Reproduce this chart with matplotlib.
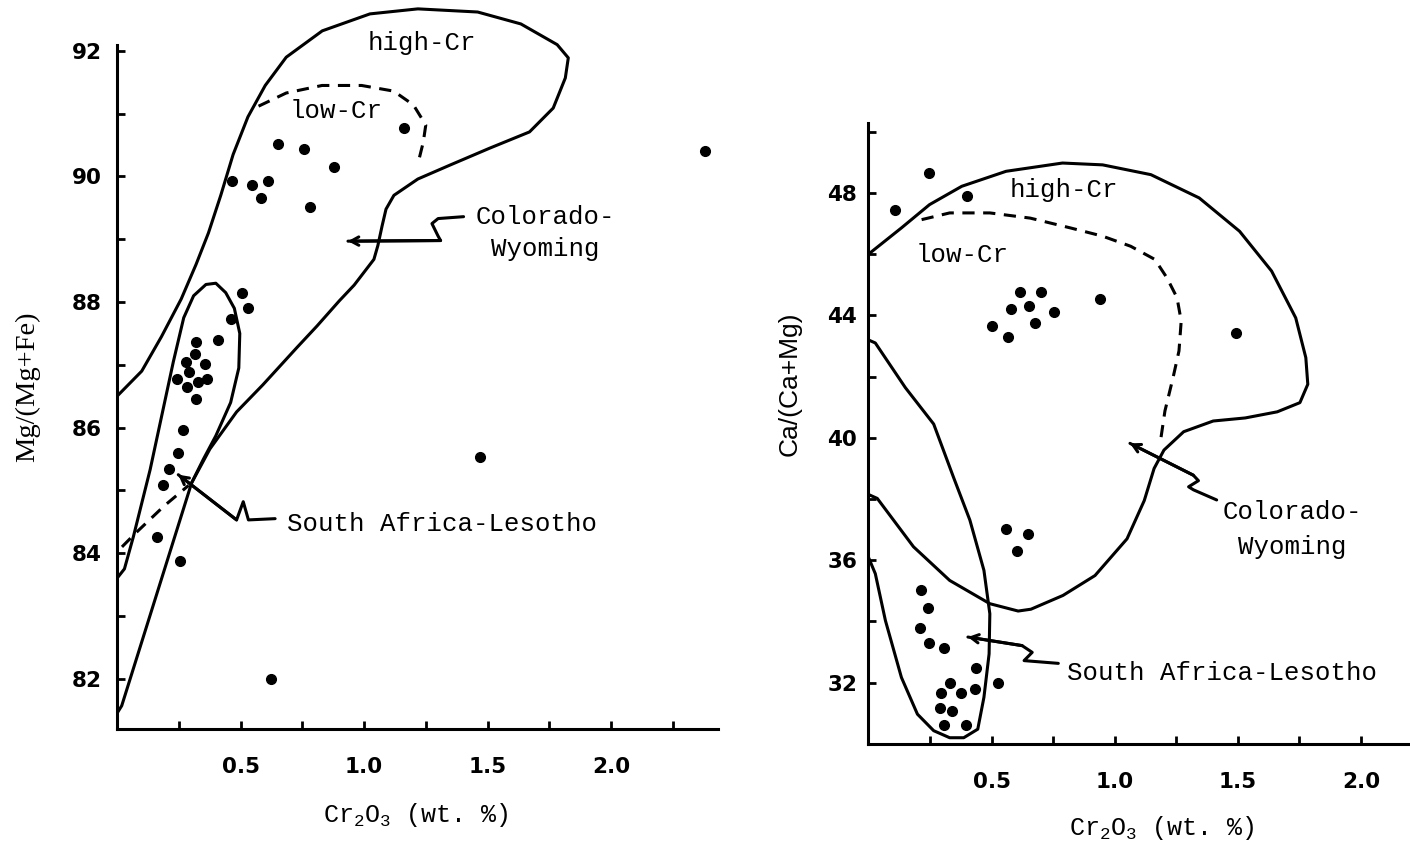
import matplotlib
matplotlib.use("Agg")
import matplotlib.pyplot as plt
from matplotlib.ticker import FixedLocator, FormatStrFormatter

plt.rcParams["mathtext.fontset"] = "custom"
plt.rcParams["mathtext.rm"] = "Liberation Mono"
plt.rcParams["mathtext.it"] = "Liberation Mono"

# ---------------------------------------------------------------------------
# Data
# ---------------------------------------------------------------------------

# left panel: Mg/(Mg+Fe) vs Cr2O3
mg_x = [1.161, 0.65, 0.758, 0.879, 0.465, 0.545, 0.613, 0.584, 0.782, 2.379,
        0.505, 0.532, 0.46, 0.41, 0.32, 0.316, 0.28, 0.356, 0.293, 0.242,
        0.329, 0.366, 0.285, 0.32, 0.266, 0.248, 0.212, 0.188, 0.161, 0.255,
        0.623, 1.468]
mg_y = [90.78, 90.51, 90.44, 90.15, 89.93, 89.87, 89.93, 89.66, 89.51, 90.41,
        88.14, 87.91, 87.73, 87.40, 87.37, 87.17, 87.05, 87.01, 86.88, 86.77,
        86.72, 86.77, 86.65, 86.46, 85.96, 85.59, 85.34, 85.09, 84.26, 83.87,
        82.00, 85.53]

# Colorado-Wyoming field (left)
cw_mg_x = [0.0, 0.1, 0.18, 0.26, 0.32, 0.37, 0.42, 0.47, 0.53, 0.6, 0.685,
           0.831, 1.024, 1.218, 1.46, 1.635, 1.782, 1.827, 1.815, 1.766, 1.67,
           1.508, 1.347, 1.218, 1.121, 1.089, 1.073, 1.056, 1.04, 0.96, 0.9,
           0.81, 0.727, 0.59, 0.484, 0.376, 0.302, 0.019, 0.0]
cw_mg_y = [86.5, 86.9, 87.45, 88.05, 88.6, 89.1, 89.7, 90.35, 90.95, 91.45,
           91.9, 92.32, 92.59, 92.67, 92.62, 92.43, 92.1, 91.89, 91.57, 91.09,
           90.71, 90.45, 90.18, 89.96, 89.7, 89.48, 89.21, 88.9, 88.68, 88.27,
           88.02, 87.62, 87.27, 86.68, 86.25, 85.66, 85.12, 81.57, 81.45]
# South Africa-Lesotho field (left)
sa_mg_x = [0.0, 0.03, 0.066, 0.134, 0.228, 0.27, 0.31, 0.36, 0.40, 0.44,
           0.475, 0.497, 0.493, 0.46, 0.40, 0.35, 0.302]
sa_mg_y = [83.6, 83.75, 84.26, 85.33, 87.05, 87.75, 88.1, 88.28, 88.3, 88.15,
           87.9, 87.5, 86.95, 86.4, 85.87, 85.5, 85.12]
# low-Cr boundary (left, dashed)
low_mg_x = [0.573, 0.685, 0.83, 0.99, 1.12, 1.2, 1.25, 1.24, 1.218]
low_mg_y = [91.12, 91.33, 91.45, 91.45, 91.36, 91.14, 90.82, 90.55, 90.2]
low2_mg_x = [0.02, 0.07, 0.19, 0.29]
low2_mg_y = [84.1, 84.3, 84.75, 85.08]

# right panel: Ca/(Ca+Mg) vs Cr2O3
ca_x = [0.245, 0.109, 0.40, 0.616, 0.701, 0.578, 0.654, 0.752, 0.502, 0.567,
        0.676, 0.94, 1.493, 0.559, 0.649, 0.605, 0.212, 0.24, 0.208, 0.245,
        0.306, 0.436, 0.526, 0.332, 0.433, 0.294, 0.376, 0.292, 0.34, 0.306,
        0.395]
ca_y = [48.65, 47.46, 47.89, 44.77, 44.77, 44.2, 44.3, 44.12, 43.65, 43.3,
        43.74, 44.55, 43.43, 37.02, 36.87, 36.31, 35.04, 34.45, 33.79, 33.3,
        33.14, 32.48, 31.98, 31.99, 31.8, 31.65, 31.65, 31.17, 31.06, 30.62,
        30.62]

cw_ca_x = [0.0, 0.134, 0.248, 0.379, 0.559, 0.788, 0.951, 1.147, 1.343, 1.507,
           1.637, 1.735, 1.776, 1.784, 1.752, 1.66, 1.53, 1.40, 1.28, 1.2,
           1.16, 1.12, 1.05, 0.92, 0.79, 0.66, 0.608, 0.493, 0.33, 0.183,
           0.036, 0.0]
cw_ca_y = [46.0, 46.86, 47.62, 48.22, 48.71, 48.98, 48.92, 48.6, 47.84, 46.75,
           45.45, 43.92, 42.62, 41.75, 41.15, 40.85, 40.65, 40.55, 40.2, 39.6,
           39.0, 37.95, 36.7, 35.5, 34.85, 34.4, 34.34, 34.58, 35.34, 36.44,
           38.02, 38.15]
sa_ca_x = [0.0, 0.028, 0.15, 0.265, 0.346, 0.412, 0.469, 0.493, 0.49, 0.469,
           0.444, 0.387, 0.33, 0.265, 0.199, 0.134, 0.069, 0.028, 0.0]
sa_ca_y = [43.2, 43.1, 41.64, 40.45, 38.7, 37.31, 35.67, 34.25, 32.94, 31.52,
           30.48, 30.2, 30.2, 30.43, 30.97, 32.17, 34.03, 35.56, 36.1]
low_ca_x = [0.216, 0.33, 0.493, 0.657, 0.82, 0.951, 1.065, 1.163, 1.212,
            1.253, 1.27, 1.261, 1.237, 1.204, 1.188]
low_ca_y = [47.13, 47.35, 47.35, 47.18, 46.86, 46.59, 46.26, 45.83, 45.23,
            44.58, 43.82, 42.84, 41.97, 40.88, 40.01]

# leader lines (arrow tip first)
arr_cw_mg = ([0.935, 1.31, 1.30, 1.275, 1.30, 1.403], [88.97, 88.98, 89.05, 89.25, 89.33, 89.36])
arr_sa_mg = ([0.248, 0.484, 0.511, 0.532, 0.64], [85.25, 84.53, 84.82, 84.53, 84.55])
arr_cw_ca = ([1.062, 1.319, 1.34, 1.30, 1.32, 1.414], [39.82, 38.78, 38.6, 38.4, 38.3, 37.97])
arr_sa_ca = ([0.404, 0.624, 0.665, 0.632, 0.771], [33.49, 33.21, 32.99, 32.72, 32.63])

LW = 2.2
MONO = "Liberation Mono"
DASH = (0, (4, 2.8))

fig = plt.figure(figsize=(14.1, 8.55), dpi=100)
axL = fig.add_axes([0.0830, 0.1474, 0.4262, 0.8481])
axR = fig.add_axes([0.6159, 0.1300, 0.3841, 0.7373])


def style(ax, xlim, ylim, spine_top, yticks, yminor, ypad):
    ax.set_xlim(*xlim)
    ax.set_ylim(*ylim)
    for s in ("top", "right"):
        ax.spines[s].set_visible(False)
    for s in ("left", "bottom"):
        ax.spines[s].set_linewidth(LW)
    ax.spines["left"].set_bounds(ylim[0], spine_top)
    ax.xaxis.set_major_locator(FixedLocator([0.5, 1.0, 1.5, 2.0]))
    ax.xaxis.set_minor_locator(FixedLocator([0.25, 0.75, 1.25, 1.75, 2.25]))
    ax.xaxis.set_major_formatter(FormatStrFormatter("%.1f"))
    ax.yaxis.set_major_locator(FixedLocator(yticks))
    ax.yaxis.set_minor_locator(FixedLocator(yminor))
    ax.tick_params(which="both", direction="in", length=5.5, width=2,
                   labelsize=15.5, labelfontfamily="DejaVu Sans")
    ax.tick_params(axis="x", pad=20)
    ax.tick_params(axis="y", pad=ypad)


def bold_ticks(ax):
    for lab in ax.get_xticklabels() + ax.get_yticklabels():
        lab.set_fontweight("bold")


def leader(ax, xs, ys):
    ax.plot(xs, ys, color="k", lw=LW, solid_capstyle="round", solid_joinstyle="round")
    ax.annotate("", xy=(xs[0], ys[0]), xytext=(xs[1], ys[1]),
                arrowprops=dict(arrowstyle="->,head_length=0.55,head_width=0.3",
                                lw=LW, color="k", shrinkA=0, shrinkB=0))


# ---------------------------------------------------------------------------
# Left panel
# ---------------------------------------------------------------------------
style(axL, (0, 2.433), (81.2, 92.75), 92.1,
      [82, 84, 86, 88, 90, 92], [83, 85, 87, 89, 91], 11)
axL.plot(cw_mg_x, cw_mg_y, color="k", lw=LW)
axL.plot(sa_mg_x, sa_mg_y, color="k", lw=LW)
axL.plot(low_mg_x, low_mg_y, color="k", lw=LW, ls=DASH)
axL.plot(low2_mg_x, low2_mg_y, color="k", lw=LW, ls=DASH)
axL.plot(mg_x, mg_y, "o", color="k", ms=7, clip_on=False)
leader(axL, *arr_cw_mg)
leader(axL, *arr_sa_mg)
axL.text(1.016, 92.13, "high-Cr", family=MONO, fontsize=18.5, va="center")
axL.text(0.70, 91.04, "low-Cr", family=MONO, fontsize=18.5, va="center")
axL.text(1.735, 89.35, "Colorado-", family=MONO, fontsize=18.5, va="center", ha="center")
axL.text(1.735, 88.84, "Wyoming", family=MONO, fontsize=18.5, va="center", ha="center")
axL.text(0.687, 84.47, "South Africa-Lesotho", family=MONO, fontsize=18.5, va="center")
axL.text(1.21, 79.83, r"Cr$_2$O$_3$ (wt. %)", family=MONO, fontsize=18,
         ha="center", va="center", clip_on=False)

# ---------------------------------------------------------------------------
# Right panel
# ---------------------------------------------------------------------------
style(axR, (0, 2.199), (30, 50.6), 50.3,
      [32, 36, 40, 44, 48], [34, 38, 42, 46, 50], 8)
axR.plot(cw_ca_x, cw_ca_y, color="k", lw=LW)
axR.plot(sa_ca_x, sa_ca_y, color="k", lw=LW)
axR.plot(low_ca_x, low_ca_y, color="k", lw=LW, ls=DASH)
axR.plot(ca_x, ca_y, "o", color="k", ms=7, clip_on=False)
leader(axR, *arr_cw_ca)
leader(axR, *arr_sa_ca)
axR.text(0.575, 48.1, "high-Cr", family=MONO, fontsize=18.5, va="center")
axR.text(0.19, 45.99, "low-Cr", family=MONO, fontsize=18.5, va="center")
axR.text(1.72, 37.59, "Colorado-", family=MONO, fontsize=18.5, va="center", ha="center")
axR.text(1.72, 36.44, "Wyoming", family=MONO, fontsize=18.5, va="center", ha="center")
axR.text(0.805, 32.3, "South Africa-Lesotho", family=MONO, fontsize=18.5, va="center")
axR.text(1.19, 27.25, r"Cr$_2$O$_3$ (wt. %)", family=MONO, fontsize=18,
         ha="center", va="center", clip_on=False)

fig.canvas.draw()
bold_ticks(axL)
bold_ticks(axR)

# axis titles
fig.text(28 / 1410, 1 - 387 / 855, "Mg/(Mg+Fe)", family="Liberation Serif",
         fontsize=20.5, rotation=90, ha="center", va="center")
fig.text(790 / 1410, 1 - 384 / 855, "Ca/(Ca+Mg)", family="Liberation Sans",
         fontsize=19, rotation=90, ha="center", va="center")

fig.savefig("out.png", dpi=100, facecolor="white")
